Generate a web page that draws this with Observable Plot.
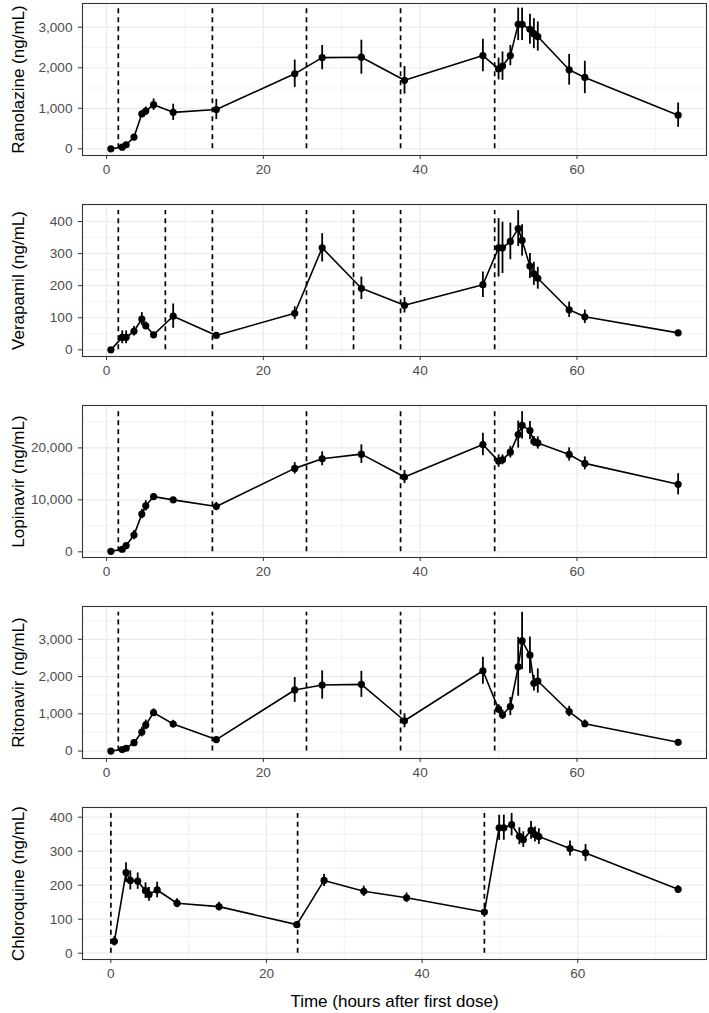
<!DOCTYPE html>
<html>
<head>
<meta charset="utf-8">
<script src="https://cdn.jsdelivr.net/npm/d3@7"></script>
<script src="https://cdn.jsdelivr.net/npm/@observablehq/plot@0.6"></script>
<style>
  html, body { margin: 0; padding: 0; background: #fff; }
  #chart { width: 709px; }
  #chart svg { display: block; }
</style>
</head>
<body>
<div id="chart"></div>
<script>
// Sampling times (hours after first dose)
const times = [0.55, 2, 2.5, 3.5, 4.5, 5, 6, 8.5, 14, 24, 27.5, 32.5, 38, 48, 50, 50.5, 51.5, 52.5, 53, 54, 54.5, 55, 59, 61, 72.9];
const cqTimes = [0.45, 1.95, 2.5, 3.45, 4.45, 4.9, 5.95, 8.5, 13.9, 23.9, 27.4, 32.5, 38, 48, 49.9, 50.5, 51.5, 52.5, 53, 54, 54.5, 55, 59, 61, 72.9];

// Mean concentrations (ng/mL) and error (half-length of bars)
const ranolazine    = [0, 40, 100, 290, 860, 930, 1090, 900, 970, 1850, 2250, 2260, 1690, 2300, 1970, 2040, 2300, 3070, 3070, 2950, 2840, 2770, 1950, 1760, 830];
const ranolazineErr = [10, 30, 40, 60, 80, 100, 140, 200, 250, 340, 300, 420, 340, 400, 270, 350, 250, 400, 400, 370, 370, 360, 380, 400, 300];

const verapamil     = [0, 39, 39, 58, 96, 75, 47, 105, 45, 114, 318, 192, 139, 203, 318, 318, 338, 378, 341, 261, 237, 223, 125, 103, 53];
const verapamilErr  = [2, 20, 20, 15, 20, 12, 8, 38, 7, 20, 44, 35, 24, 40, 91, 80, 57, 56, 49, 39, 36, 34, 24, 21, 8];

const lopinavir     = [100, 500, 1200, 3220, 7270, 8850, 10630, 10000, 8720, 16060, 17900, 18800, 14400, 20650, 17460, 17700, 19180, 22560, 24340, 23330, 21230, 20950, 18740, 17020, 13000];
const lopinavirErr  = [100, 300, 500, 900, 900, 1000, 500, 400, 800, 1100, 1340, 1790, 1270, 2170, 1200, 950, 1120, 2600, 2640, 1750, 960, 1180, 1270, 1240, 2040];

const ritonavir     = [0, 40, 75, 225, 510, 700, 1030, 725, 307, 1640, 1773, 1790, 813, 2155, 1125, 973, 1195, 2261, 2955, 2573, 1819, 1880, 1061, 733, 235];
const ritonavirErr  = [10, 30, 40, 80, 130, 130, 100, 100, 60, 333, 380, 350, 190, 365, 120, 125, 245, 790, 770, 490, 210, 325, 140, 100, 50];

const chloroquine   = [35, 237, 214, 212, 184, 173, 186, 147, 137, 84, 214, 182, 163, 121, 369, 369, 378, 344, 334, 361, 349, 343, 308, 295, 188];
const chloroquineErr= [14, 29, 28, 24, 23, 20, 23, 13, 13, 6, 18, 15, 14, 5, 37, 37, 33, 25, 23, 26, 22, 23, 22, 25, 11];

// Dosing times (dashed lines)
const dosesRan = [1.5, 13.5, 25.5, 37.5, 49.5];
const dosesVer = [1.5, 7.5, 13.5, 25.5, 31.5, 37.5, 49.5];
const dosesLop = [1.5, 13.5, 25.5, 37.5, 49.5];
const dosesRit = [1.5, 13.5, 25.5, 37.5, 49.5];
const dosesCq  = [0, 24, 48];

// Axis ticks
const xTicks = [0, 20, 40, 60];
const xMinor = [10, 30, 50, 70];

const panels = [
  {label: "Ranolazine (ng/mL)", t: times, v: ranolazine, e: ranolazineErr, doses: dosesRan,
   yDomain: [-165, 3585], yTicks: [0, 1000, 2000, 3000], yMinor: [500, 1500, 2500, 3500]},
  {label: "Verapamil (ng/mL)", t: times, v: verapamil, e: verapamilErr, doses: dosesVer,
   yDomain: [-20.7, 453], yTicks: [0, 100, 200, 300, 400], yMinor: [50, 150, 250, 350, 450]},
  {label: "Lopinavir (ng/mL)", t: times, v: lopinavir, e: lopinavirErr, doses: dosesLop,
   yDomain: [-1090, 28160], yTicks: [0, 10000, 20000], yMinor: [5000, 15000, 25000]},
  {label: "Ritonavir (ng/mL)", t: times, v: ritonavir, e: ritonavirErr, doses: dosesRit,
   yDomain: [-200, 3880], yTicks: [0, 1000, 2000, 3000], yMinor: [500, 1500, 2500, 3500]},
  {label: "Chloroquine (ng/mL)", t: cqTimes, v: chloroquine, e: chloroquineErr, doses: dosesCq,
   yDomain: [-18.5, 428.5], yTicks: [0, 100, 200, 300, 400], yMinor: [50, 150, 250, 350]}
];

const FONT = "'Liberation Sans', Arial, Helvetica, sans-serif";
const fmt = d3.format(",");
const chart = document.getElementById("chart");

panels.forEach((p, i) => {
  const last = i === panels.length - 1;
  const data = p.t.map((t, j) => ({t, v: p.v[j], e: p.e[j]}));
  const allX = p.t.concat(p.doses);
  const [xmin, xmax] = d3.extent(allX);
  const r = xmax - xmin;
  const xDomain = [xmin - 0.05 * r, xmax + 0.05 * r];
  const topVal = d3.max(data, d => d.v + d.e);

  const svg = Plot.plot({
    width: 709,
    height: last ? 209 : 201,
    marginLeft: 82,
    marginRight: 3,
    marginTop: 3,
    marginBottom: last ? 54 : 46,
    style: {fontFamily: FONT, fontSize: "13.6px", background: "#fff", overflow: "visible"},
    x: {domain: xDomain},
    y: {domain: p.yDomain},
    marks: [
      Plot.gridY(p.yMinor, {stroke: "#ebebeb", strokeOpacity: 1, strokeWidth: 0.6}),
      Plot.gridX(xMinor, {stroke: "#ebebeb", strokeOpacity: 1, strokeWidth: 0.6}),
      Plot.gridY(p.yTicks, {stroke: "#ebebeb", strokeOpacity: 1, strokeWidth: 1.2}),
      Plot.gridX(xTicks, {stroke: "#ebebeb", strokeOpacity: 1, strokeWidth: 1.2}),
      Plot.ruleX(p.doses, {x: d => d, y1: 0, y2: topVal, stroke: "#000", strokeWidth: 1.7, strokeDasharray: "5,4"}),
      Plot.line(data, {x: "t", y: "v", stroke: "#000", strokeWidth: 1.6, clip: true}),
      Plot.ruleX(data, {x: "t", y1: d => d.v - d.e, y2: d => d.v + d.e, stroke: "#000", strokeWidth: 1.8, clip: true}),
      Plot.dot(data, {x: "t", y: "v", r: 3.6, fill: "#000", stroke: "none"}),
      Plot.frame({stroke: "#333", strokeWidth: 1.1}),
      Plot.axisY(p.yTicks, {tickFormat: fmt, tickSize: 4, tickPadding: 6, stroke: "#333", fill: "#4d4d4d", label: null}),
      Plot.axisX(xTicks, {tickFormat: d => String(d), tickSize: 4, tickPadding: 5, stroke: "#333", fill: "#4d4d4d", label: null}),
      Plot.text([p.label], {frameAnchor: "left", dx: -64, rotate: -90, text: d => d, fontSize: 17, fill: "#000", textAnchor: "middle"}),
      ...(last ? [Plot.text(["Time (hours after first dose)"], {frameAnchor: "bottom", dy: 47, text: d => d, fontSize: 17, fill: "#000"})] : [])
    ]
  });
  chart.appendChild(svg);
});
</script>
</body>
</html>
